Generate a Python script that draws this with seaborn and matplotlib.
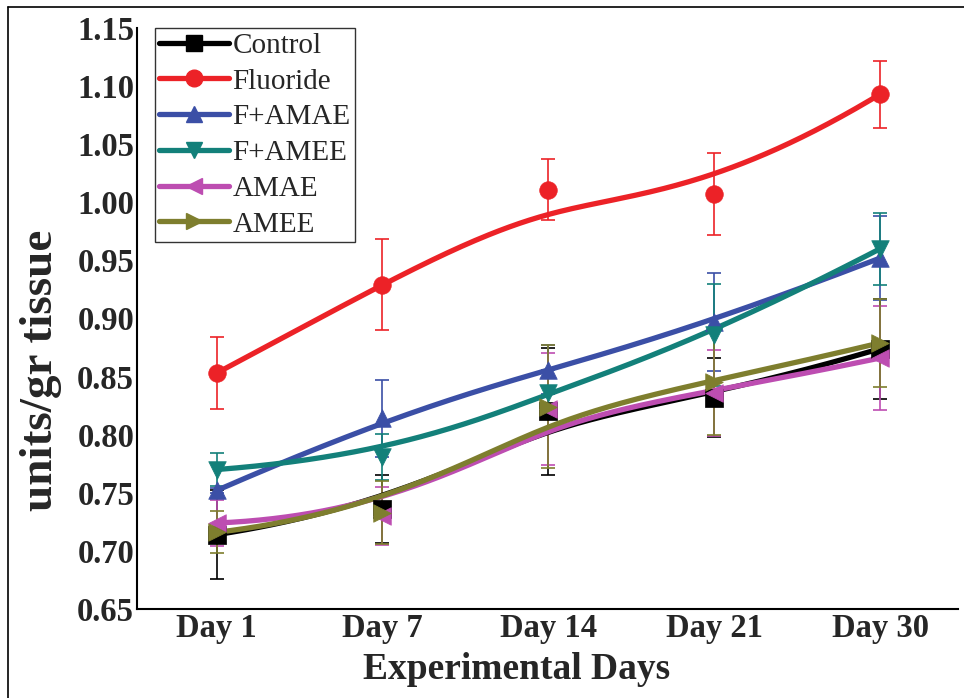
import numpy as np
import pandas as pd
import matplotlib
matplotlib.use("Agg")
import matplotlib.pyplot as plt
from matplotlib.lines import Line2D
import seaborn as sns

days = ["Day 1", "Day 7", "Day 14", "Day 21", "Day 30"]
groups = ["Control", "Fluoride", "F+AMAE", "F+AMEE", "AMAE", "AMEE"]

control = [0.714, 0.736, 0.820, 0.832, 0.874]
fluoride = [0.853, 0.929, 1.011, 1.007, 1.093]
f_amae = [0.752, 0.814, 0.856, 0.897, 0.952]
f_amee = [0.770, 0.781, 0.836, 0.886, 0.960]
amae = [0.724, 0.730, 0.822, 0.836, 0.866]
amee = [0.716, 0.733, 0.824, 0.845, 0.879]

control_err = [0.038, 0.029, 0.055, 0.034, 0.043]
fluoride_err = [0.031, 0.039, 0.026, 0.035, 0.029]
f_amae_err = [0.002, 0.033, 0.021, 0.042, 0.036]
f_amee_err = [0.014, 0.020, 0.020, 0.044, 0.031]
amae_err = [0.020, 0.025, 0.048, 0.037, 0.045]
amee_err = [0.018, 0.027, 0.053, 0.045, 0.038]

values = [control, fluoride, f_amae, f_amee, amae, amee]
errors = [control_err, fluoride_err, f_amae_err, f_amee_err, amae_err, amee_err]
colors = ["#000000", "#EC2227", "#3B4FA6", "#13807A", "#BD4DB1", "#7E7E2E"]
markers = ["s", "o", "^", "v", "<", ">"]


def bspline(px, py, n=200, k=3):
    # clamped cubic B-spline with the data as control points (Origin-style smoothing)
    m = len(px)
    inner = np.linspace(0, 1, m - k + 1)
    knots = np.concatenate([np.zeros(k), inner, np.ones(k)])
    t = np.linspace(0, 1, n)
    t[-1] = 1 - 1e-9

    def basis(i, d, tt):
        if d == 0:
            return np.where((knots[i] <= tt) & (tt < knots[i + 1]), 1.0, 0.0)
        a = 0.0
        b = 0.0
        if knots[i + d] != knots[i]:
            a = (tt - knots[i]) / (knots[i + d] - knots[i]) * basis(i, d - 1, tt)
        if knots[i + d + 1] != knots[i + 1]:
            b = (knots[i + d + 1] - tt) / (knots[i + d + 1] - knots[i + 1]) * basis(i + 1, d - 1, tt)
        return a + b

    B = np.array([basis(i, k, t) for i in range(m)])
    return B.T @ np.asarray(px, float), B.T @ np.asarray(py, float)


sns.set_style("white")
plt.rcParams["font.family"] = ["Liberation Serif", "DejaVu Serif"]

fig = plt.figure(figsize=(9.64, 6.98), dpi=100)
ax = fig.add_axes([0.1421, 0.1275, 0.8517, 0.8324])

xpos = np.arange(len(days))
for name, vals, errs, col, mk in zip(groups, values, errors, colors, markers):
    sx, sy = bspline(xpos, vals)
    curve = pd.DataFrame({"x": sx, "y": sy})
    sns.lineplot(data=curve, x="x", y="y", ax=ax, color=col, linewidth=3.8,
                 sort=False, estimator=None, zorder=3)
    ax.errorbar(xpos, vals, yerr=errs, fmt="none", ecolor=col, elinewidth=1.2,
                capsize=5, capthick=1.2, zorder=2)
    sns.scatterplot(x=xpos, y=vals, ax=ax, color=col, marker=mk, s=160,
                    edgecolor=col, linewidth=0.5, zorder=4)

ax.set_xlim(-0.48, 4.47)
ax.set_ylim(0.65, 1.15)
ax.set_yticks(np.arange(0.65, 1.151, 0.05))
ax.set_yticklabels([f"{v:.2f}" for v in np.arange(0.65, 1.151, 0.05)])
ax.set_xticks(xpos)
ax.set_xticklabels(days)
ax.tick_params(axis="y", length=0, labelsize=23.5, pad=2)
ax.tick_params(axis="x", length=0, labelsize=23.5, pad=3)
for lab in ax.get_xticklabels() + ax.get_yticklabels():
    lab.set_fontweight("bold")

ax.set_xlabel("Experimental Days", fontsize=27, fontweight="bold")
ax.set_ylabel("units/gr tissue", fontsize=34, fontweight="bold")
ax.xaxis.set_label_coords(0.462, -0.074)
ax.yaxis.set_label_coords(-0.091, 0.411)

for side in ["top", "right"]:
    ax.spines[side].set_visible(False)
for side in ["left", "bottom"]:
    ax.spines[side].set_color("black")
    ax.spines[side].set_linewidth(1.5)

handles = [Line2D([0], [0], color=c, linewidth=3.8, marker=m, markersize=12,
                  markeredgecolor=c) for c, m in zip(colors, markers)]
leg = ax.legend(handles, groups, loc="upper left", bbox_to_anchor=(0.022, 1.0),
                fontsize=21, frameon=True, fancybox=False, handlelength=2.4,
                handletextpad=0.1, labelspacing=0.32, borderpad=0.15,
                borderaxespad=0.0)
leg.get_frame().set_edgecolor("black")
leg.get_frame().set_linewidth(1.0)

# outer frame lines (top and left edge of the original image)
fig.add_artist(Line2D([8 / 964, 8 / 964], [0, 1 - 7 / 698], color="black",
                      linewidth=1.2, transform=fig.transFigure))
fig.add_artist(Line2D([8 / 964, 1], [1 - 7 / 698, 1 - 7 / 698], color="black",
                      linewidth=1.2, transform=fig.transFigure))

fig.savefig("out.png", dpi=100)
